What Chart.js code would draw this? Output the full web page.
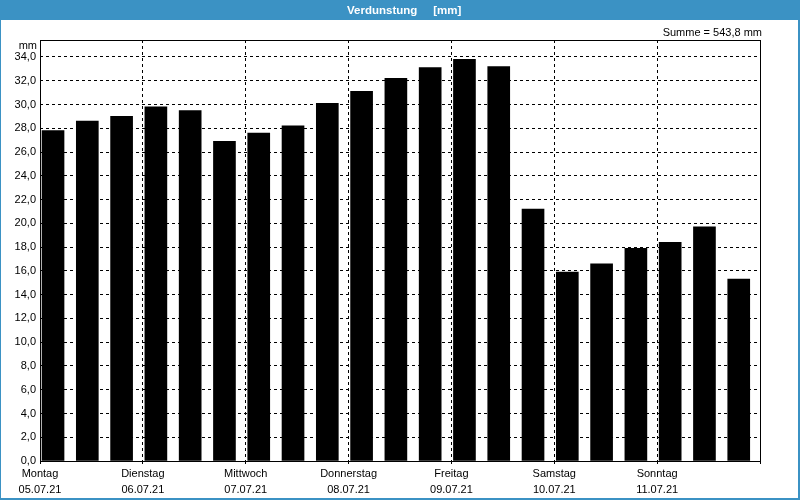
<!DOCTYPE html>
<html><head><meta charset="utf-8">
<script src="https://cdn.jsdelivr.net/npm/chart.js@4"></script>
<style>html,body{margin:0;padding:0;background:#fff}#wrap{width:800px;height:500px}</style>
</head><body><div id="wrap"><canvas id="c" width="800" height="500"></canvas></div>
<script>
const days = ['Montag','Dienstag','Mittwoch','Donnerstag','Freitag','Samstag','Sonntag'];
const dates = ['05.07.21','06.07.21','07.07.21','08.07.21','09.07.21','10.07.21','11.07.21'];
const values = [27.8, 28.6, 29.0, 29.8, 29.5, 26.9, 27.6, 28.2, 30.1, 31.1, 32.2, 33.1, 33.8, 33.2, 21.2, 15.9, 16.6, 17.9, 18.4, 19.7, 15.3];
const yTicks = [0,2,4,6,8,10,12,14,16,18,20,22,24,26,28,30,32,34];
const titleText = 'Verdunstung     [mm]';
const sumText = 'Summe = 543,8 mm';
const unitText = 'mm';

const BLUE = 'rgb(59,146,196)';
const FONT = '"Liberation Sans", Arial, sans-serif';

const frame = {
  id: 'frame',
  beforeDraw(chart) {
    const ctx = chart.ctx;
    ctx.save();
    ctx.fillStyle = '#fff';
    ctx.fillRect(0, 0, 800, 500);
    ctx.fillStyle = BLUE;
    ctx.fillRect(0, 0, 800, 20);
    ctx.fillRect(0, 20, 1, 480);
    ctx.fillRect(798, 20, 2, 480);
    ctx.fillRect(0, 498, 800, 2);
    ctx.restore();
  },
  afterDraw(chart) {
    const ctx = chart.ctx, a = chart.chartArea;
    ctx.save();
    ctx.strokeStyle = '#000';
    ctx.lineWidth = 1;
    ctx.setLineDash([]);
    ctx.strokeRect(Math.round(a.left) + 0.5, Math.round(a.top) + 0.5, Math.round(a.right - a.left), Math.round(a.bottom - a.top));
    ctx.fillStyle = '#fff';
    ctx.font = 'bold 11.5px ' + FONT;
    ctx.textBaseline = 'middle';
    ctx.textAlign = 'left';
    ctx.fillText(titleText, 347, 10.5);
    ctx.fillStyle = '#000';
    ctx.font = '11px ' + FONT;
    ctx.textAlign = 'right';
    ctx.fillText(sumText, 762, 32.5);
    ctx.fillText(unitText, 37, 46);
    ctx.restore();
  }
};

new Chart(document.getElementById('c'), {
  type: 'bar',
  data: {
    datasets: [{
      data: values.map((v, i) => ({x: i, y: v})),
      xAxisID: 'xb',
      yAxisID: 'y',
      backgroundColor: '#000',
      borderWidth: 0,
      barThickness: 22
    }]
  },
  options: {
    responsive: false,
    animation: false,
    devicePixelRatio: 1,
    layout: {padding: {top: 40, right: 40, left: 0, bottom: 0}},
    plugins: {legend: {display: false}, title: {display: false}, tooltip: {enabled: false}},
    scales: {
      xb: {type: 'linear', display: false, min: -0.38, max: 20.62, offset: false, grid: {offset: false}},
      x: {
        type: 'linear', position: 'bottom', min: 0, max: 7, offset: false,
        afterBuildTicks: s => { s.ticks = days.map((d, i) => ({value: i})).concat([{value: 7}]); },
        afterFit: s => { s.height = 39; },
        ticks: {
          autoSkip: false, maxRotation: 0, minRotation: 0, padding: 1,
          color: '#000', font: {family: FONT, size: 11, lineHeight: 1.45},
          callback: v => v < 7 ? [days[v], dates[v]] : ''
        },
        grid: {offset: false, color: '#000', lineWidth: 1, drawTicks: true, tickLength: 4, tickBorderDash: [3, 3]},
        border: {display: false, dash: [3, 3]}
      },
      y: {
        type: 'linear', min: 0, max: 35.43,
        afterBuildTicks: s => { s.ticks = yTicks.map(v => ({value: v})); },
        afterFit: s => { s.width = 40; },
        ticks: {
          padding: 4, color: '#000', font: {family: FONT, size: 11},
          callback: v => v.toFixed(1).replace('.', ',')
        },
        grid: {color: '#000', lineWidth: 1, drawTicks: false},
        border: {display: false, dash: [3, 3]}
      }
    }
  },
  plugins: [frame]
});
</script></body></html>
